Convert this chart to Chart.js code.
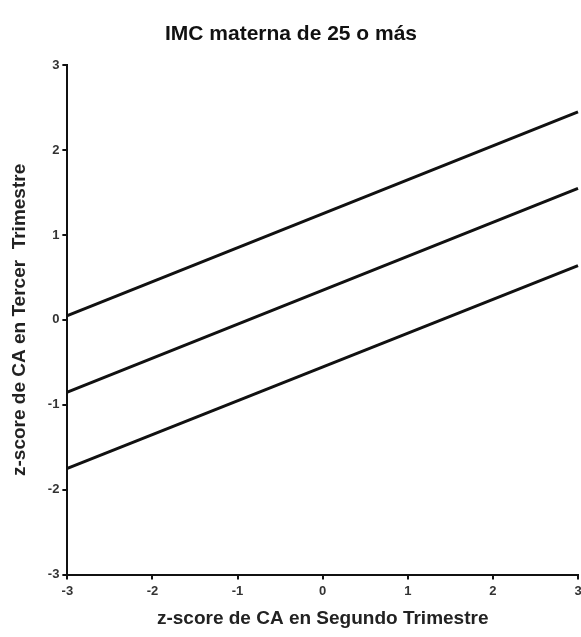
<!DOCTYPE html>
<html>
<head>
<meta charset="utf-8">
<script src="https://cdn.jsdelivr.net/npm/chart.js@4"></script>
<style>
  body { margin: 0; background: #fff; }
  #wrap { width: 581px; height: 637px; }
</style>
</head>
<body>
<div id="wrap"><canvas id="myChart" width="581" height="637"></canvas></div>
<script>
const xEnds = [-3, 3];
const upperLine = [0.05, 2.45];
const middleLine = [-0.85, 1.55];
const lowerLine = [-1.75, 0.64];
const tickValues = [-3, -2, -1, 0, 1, 2, 3];

const toPoints = ys => xEnds.map((x, i) => ({ x: x, y: ys[i] }));

const lineStyle = {
  borderColor: '#111',
  borderWidth: 3,
  pointRadius: 0,
  showLine: true,
  fill: false,
  clip: false,
};

const tickFont = { family: 'Liberation Sans, Arial, sans-serif', size: 13, weight: 'bold' };
const titleFont = { family: 'Liberation Sans, Arial, sans-serif', size: 19, weight: 'bold' };

const ctx = document.getElementById('myChart').getContext('2d');
new Chart(ctx, {
  type: 'scatter',
  data: {
    datasets: [
      { ...lineStyle, data: toPoints(upperLine) },
      { ...lineStyle, data: toPoints(middleLine) },
      { ...lineStyle, data: toPoints(lowerLine) },
    ],
  },
  options: {
    responsive: false,
    animation: false,
    layout: { padding: { left: 4, right: 3, top: 10, bottom: 3 } },
    plugins: {
      legend: { display: false },
      tooltip: { enabled: false },
      title: {
        display: true,
        text: 'IMC materna de 25 o más',
        color: '#111',
        font: { family: 'Liberation Sans, Arial, sans-serif', size: 21, weight: 'bold' },
        padding: { top: 12, bottom: 18 },
      },
    },
    scales: {
      x: {
        type: 'linear',
        min: -3,
        max: 3,
        afterBuildTicks: axis => { axis.ticks = tickValues.map(v => ({ value: v })); },
        afterFit: axis => { axis.paddingRight = 0; },
        grid: { drawOnChartArea: false, drawTicks: true, tickLength: 5, color: '#111', lineWidth: 2 },
        border: { color: '#111', width: 2 },
        ticks: { color: '#333', font: tickFont, padding: 4 },
        title: { display: true, text: 'z-score de CA en Segundo Trimestre', color: '#222', font: titleFont, padding: { top: 4 } },
      },
      y: {
        type: 'linear',
        min: -3,
        max: 3,
        afterBuildTicks: axis => { axis.ticks = tickValues.map(v => ({ value: v })); },
        grid: { drawOnChartArea: false, drawTicks: true, tickLength: 5, color: '#111', lineWidth: 2 },
        border: { color: '#111', width: 2 },
        ticks: { color: '#333', font: tickFont, padding: 3 },
        title: { display: true, text: 'z-score de CA en Tercer  Trimestre', color: '#222', font: titleFont, padding: { bottom: 14 } },
      },
    },
  },
});
</script>
</body>
</html>
